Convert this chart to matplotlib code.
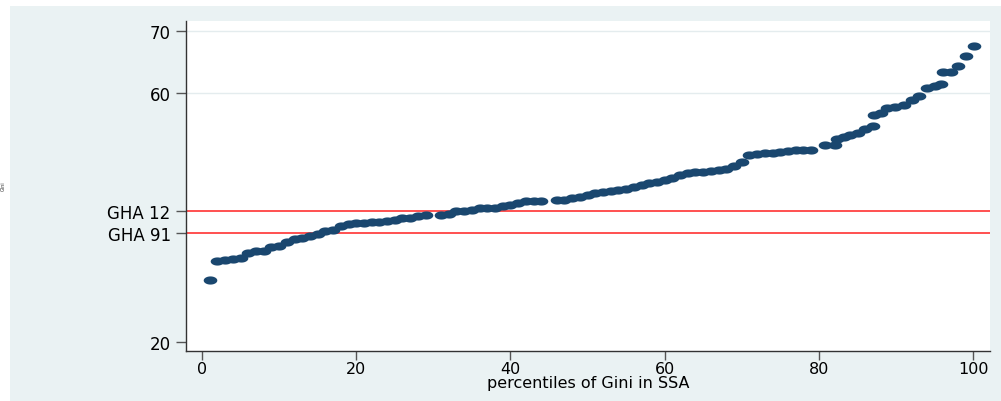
import numpy as np
import matplotlib
matplotlib.use("Agg")
import matplotlib.pyplot as plt
from matplotlib.path import Path
from matplotlib.patches import Rectangle

# ---- data ----
pct_x = (list(range(1, 30)) + list(range(31, 45)) + list(range(46, 80)) +
         [80.8, 82.1, 82.4, 83.2, 84.0, 85.1, 86.0, 87.0, 87.1, 88.1, 88.8,
          89.9, 91.0, 92.1, 93.0, 94.0, 95.1, 95.9, 96.1, 97.1, 98.0, 99.1, 100.1])
gini = ([30.0, 33.0, 33.2, 33.3, 33.6, 34.4, 34.7, 34.7, 35.3, 35.5,
         36.1, 36.6, 36.7, 37.0, 37.4, 37.9, 38.1, 38.7, 39.0, 39.1,
         39.2, 39.25, 39.3, 39.5, 39.7, 39.9, 40.0, 40.2, 40.5] +
        [40.5, 40.6, 41.0, 41.1, 41.3, 41.5, 41.5, 41.6, 41.8, 42.0,
         42.3, 42.6, 42.65, 42.7] +
        [42.85, 42.9, 43.1, 43.3, 43.7, 43.9, 44.1, 44.25, 44.4, 44.6,
         44.9, 45.2, 45.6, 45.8, 46.0, 46.4, 46.8, 47.1, 47.3, 47.4,
         47.5, 47.6, 47.8, 48.3, 48.9, 50.0, 50.2, 50.35, 50.45, 50.6,
         50.7, 50.8, 50.85, 50.9] +
        [51.7, 51.7, 52.6, 52.9, 53.3, 53.6, 54.2, 54.7, 56.5, 56.8, 57.6,
         57.7, 58.1, 58.9, 59.5, 60.8, 61.1, 61.4, 63.3, 63.3, 64.4, 65.9, 67.6])
ghana_lines = [41.07, 37.5]
ghana_labels = ["GHA 12", "GHA 91"]
y_ticks = [20, 60, 70]
x_ticks = [0, 20, 40, 60, 80, 100]
x_label = "percentiles of Gini in SSA"
y_label = "Gini"

W, H = 1001, 402
fig = plt.figure(figsize=(W / 100, H / 100), dpi=100, facecolor="white")
fig.patches.append(Rectangle((10 / W, 0), 1 - 10 / W, (H - 7) / H,
                             transform=fig.transFigure, facecolor="#EAF2F3",
                             edgecolor="none", zorder=-10))

ax = fig.add_axes([186 / W, (H - 352) / H, (990 - 186) / W, (352 - 22) / H])
ax.set_zorder(5)
ax.set_facecolor("white")
ax.set_xlim(-2.08, 102.2)
ax.set_ylim(18.61, 71.55)

for s in ["top", "right"]:
    ax.spines[s].set_visible(False)
for s in ["left", "bottom"]:
    ax.spines[s].set_color("#333333")
    ax.spines[s].set_linewidth(1.0)

# grid at labelled ticks
for yv in [60, 70]:
    ax.axhline(yv, color="#E4ECEE", lw=1.0, zorder=1)

for yv in ghana_lines:
    ax.axhline(yv, color="#FF2020", lw=1.1, zorder=2)

theta = np.linspace(0, 2 * np.pi, 60)
ell = Path(np.column_stack([np.cos(theta), 0.6 * np.sin(theta)]), closed=True)
ax.plot(pct_x, gini, linestyle="none", marker=ell, markersize=9.8,
        color="#1A476F", markeredgewidth=0, zorder=3)

yt = y_ticks + ghana_lines
ylab = [str(v) for v in y_ticks] + ghana_labels
ax.set_yticks(yt)
ax.set_yticklabels(ylab)
ax.set_xticks(x_ticks)
ax.set_xticklabels([str(v) for v in x_ticks])
ax.tick_params(axis="y", length=7, width=1.0, color="#555555", pad=4,
               labelsize=12, labelcolor="black")
ax.tick_params(axis="x", length=6.5, width=1.0, color="#555555", pad=1,
               labelsize=11.5, labelcolor="black")
ax.set_xlabel(x_label, fontsize=11.5, labelpad=-1)

fig.text(1 / W, (H - 186) / H, y_label, rotation=90, fontsize=3.5,
         ha="left", va="center", color="#333333")

fig.savefig("out.png", dpi=100, facecolor="white")
